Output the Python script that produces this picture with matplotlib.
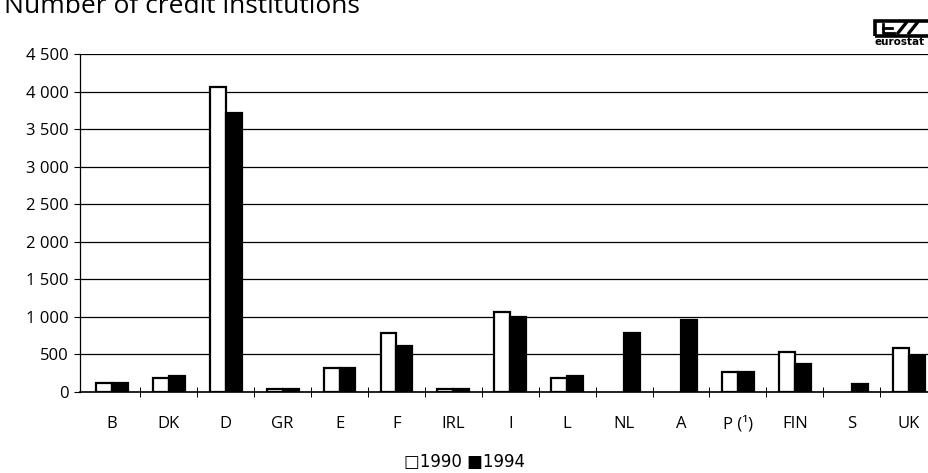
import numpy as np
import matplotlib
matplotlib.use("Agg")
import matplotlib.pyplot as plt
from matplotlib.patches import Rectangle

plt.rcParams['font.family'] = ['Open Sans', 'DejaVu Sans']

countries = ['B', 'DK', 'D', 'GR', 'E', 'F', 'IRL', 'I', 'L', 'NL', 'A', 'P (¹)', 'FIN', 'S', 'UK']
inst_1990 = [124, 183, 4060, 40, 322, 779, 38, 1063, 187, np.nan, np.nan, 262, 539, np.nan, 583]
inst_1994 = [124, 210, 3720, 45, 316, 619, 45, 992, 213, 779, 965, 262, 373, 103, 480]
yticks = np.arange(0, 4501, 500)

fig = plt.figure(figsize=(9.29, 4.73), dpi=100)
ax = fig.add_axes([80 / 929, 1 - 392 / 473, 1 - 80 / 929 + 0.01, (392 - 54) / 473])

x = np.arange(len(countries))
w = 0.28
ax.bar(x - w / 2, inst_1990, w, color='white', edgecolor='black', linewidth=1.6, zorder=3)
ax.bar(x + w / 2, inst_1994, w, color='black', edgecolor='black', linewidth=1.6, zorder=3)

ax.set_ylim(0, 4500)
ax.set_xlim(-0.56, 14.52)
ax.set_yticks(yticks)
ax.set_yticklabels([f'{v:,}'.replace(',', ' ') for v in yticks], fontsize=12)
ax.yaxis.grid(True, color='black', linewidth=0.9, zorder=0)
ax.set_axisbelow(True)

ax.set_xticks(x)
ax.set_xticklabels(countries, fontsize=12)
ax.tick_params(axis='x', length=0, pad=17)
ax.set_xticks(x[:-1] + 0.5, minor=True)
ax.tick_params(axis='x', which='minor', direction='inout', length=7, width=0.7)
ax.tick_params(axis='y', direction='out', length=4, width=0.8, pad=4)

for side in ['top', 'right']:
    ax.spines[side].set_visible(False)
ax.spines['left'].set_linewidth(0.9)
ax.spines['bottom'].set_linewidth(1.2)

# title, partly cut off at the top edge
fig.text(0.004, 1 - 13 / 473, 'Number of credit institutions', fontsize=19,
         ha='left', va='baseline')

# eurostat mark
logo = fig.add_axes([872 / 929, 1 - 50 / 473, 57 / 929, 32 / 473])
logo.set_xlim(0, 57)
logo.set_ylim(0, 32)
logo.axis('off')
logo.add_patch(Rectangle((3, 14), 60, 15, fill=False, linewidth=2.6, edgecolor='black',
                         clip_on=False))
logo.plot([11, 11, 22], [26, 17, 17], color='black', lw=2.0)
logo.plot([11, 20], [21.5, 21.5], color='black', lw=2.0)
logo.plot([26, 34], [17, 27], color='black', lw=2.4)
logo.plot([37, 45], [17, 27], color='black', lw=2.4)
logo.text(3, 3, 'eurostat', fontsize=7.5, fontweight='bold', ha='left', va='bottom',
          family=['DejaVu Sans'])

# legend below the axis
fig.text(0.5, 1 - 462 / 473, '□1990 ■1994', fontsize=12, ha='center', va='center',
         family=['DejaVu Sans'])

fig.savefig('out.png', dpi=100)
